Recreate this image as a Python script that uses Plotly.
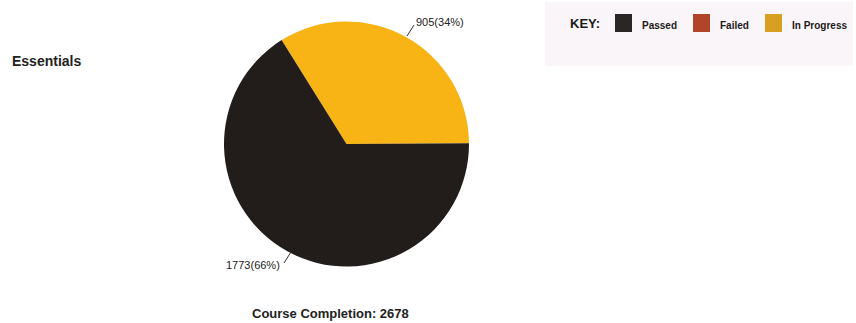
import plotly.graph_objects as go

# Course status breakdown
statuses = ["In Progress", "Passed"]
counts = [905, 1773]
slice_colors = ["#f8b414", "#221d1b"]

key_labels = ["Passed", "Failed", "In Progress"]
key_colors = ["#2a2626", "#b0452a", "#d8a023"]

total = sum(counts)
W, H = 856, 323

fig = go.Figure()
fig.add_trace(go.Pie(
    labels=statuses,
    values=counts,
    sort=False,
    direction="counterclockwise",
    rotation=328,
    marker=dict(colors=slice_colors, line=dict(width=0)),
    textinfo="none",
    hoverinfo="label+value+percent",
    showlegend=False,
    domain=dict(x=[224 / W, 469 / W], y=[1 - 266.5 / H, 1 - 21.5 / H]),
))

def px(x):
    return x / W

def py(y):
    return 1 - y / H

# Value labels with leader lines
label_specs = [
    # (text x, text y, anchor, line from, line to)
    (414, 22, "left", (407, 36), (414, 25)),
    (282, 265, "right", (291, 252), (284, 263)),
]
for (tx, ty, anchor, p0, p1), v in zip(label_specs, counts):
    pct = round(100 * v / total)
    fig.add_annotation(
        x=px(tx), y=py(ty), xref="paper", yref="paper",
        text=f"{v}({pct}%)", showarrow=False,
        xanchor=anchor, yanchor="middle",
        font=dict(family="Liberation Sans Narrow, Liberation Sans, Arial", size=11, color="#222"),
    )
    fig.add_shape(type="line", xref="paper", yref="paper",
                  x0=px(p0[0]), y0=py(p0[1]), x1=px(p1[0]), y1=py(p1[1]),
                  line=dict(color="#333", width=1))

# Titles
fig.add_annotation(
    x=px(10), y=py(61), xref="paper", yref="paper", text="<b>Essentials</b>",
    showarrow=False, xanchor="left", yanchor="middle",
    font=dict(family="Liberation Sans, Arial", size=14, color="#222"),
)
fig.add_annotation(
    x=px(330), y=py(313), xref="paper", yref="paper",
    text=f"<b>Course Completion: {total}</b>",
    showarrow=False, xanchor="center", yanchor="middle",
    font=dict(family="Liberation Sans, Arial", size=13, color="#222"),
)

# Key box
fig.add_shape(type="rect", xref="paper", yref="paper",
              x0=px(545), y0=py(66), x1=px(853), y1=py(2),
              fillcolor="#faf5f8", line=dict(width=0), layer="below")
fig.add_annotation(
    x=px(568), y=py(23), xref="paper", yref="paper", text="<b>KEY:</b>",
    showarrow=False, xanchor="left", yanchor="middle",
    font=dict(family="Liberation Sans Narrow, Liberation Sans, Arial", size=13, color="#1a1a1a"),
)
swatch_x = [615, 693, 765]
for sx, lab, col in zip(swatch_x, key_labels, key_colors):
    fig.add_shape(type="rect", xref="paper", yref="paper",
                  x0=px(sx), y0=py(32), x1=px(sx + 17), y1=py(14),
                  fillcolor=col, line=dict(width=0))
    fig.add_annotation(
        x=px(sx + 25), y=py(25), xref="paper", yref="paper", text=f"<b>{lab}</b>",
        showarrow=False, xanchor="left", yanchor="middle",
        font=dict(family="Liberation Sans Narrow, Liberation Sans, Arial", size=10, color="#1a1a1a"),
    )

fig.update_layout(
    width=W, height=H,
    margin=dict(l=0, r=0, t=0, b=0),
    paper_bgcolor="white",
    plot_bgcolor="white",
)

fig.write_html("out.html")
